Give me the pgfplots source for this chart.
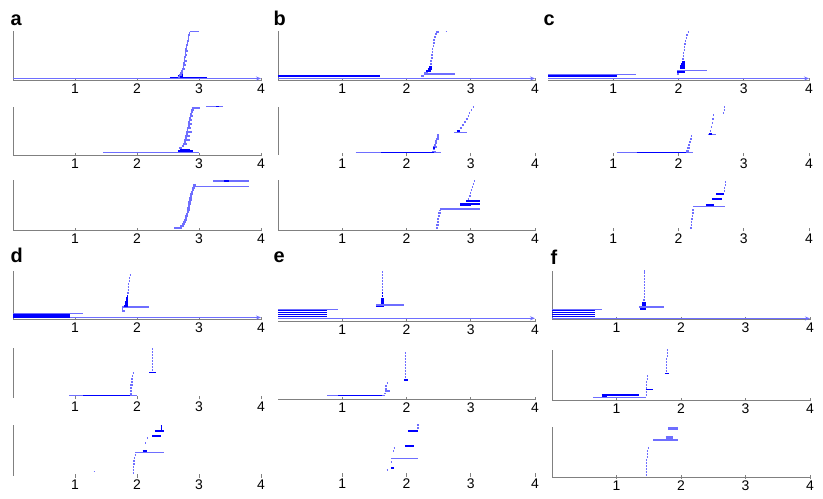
\documentclass[border=0pt]{standalone}
\usepackage{fontspec}
\setmainfont{Liberation Sans}
\usepackage{pgfplots}
\pgfplotsset{compat=1.18}
\usetikzlibrary{arrows.meta}

\definecolor{lblue}{RGB}{110,110,255}
\definecolor{dblue}{RGB}{0,0,255}

\pgfplotsset{
  panel/.style n args={4}{% x0, width, baseline y, height
    at={(#1bp,#3bp)}, anchor=south west,
    scale only axis, width=#2bp, height=#4bp,
    xmin=0, xmax=4, ymin=0, ymax=#4,
    axis x line*=bottom, axis y line*=left,
    axis line style={color=gray, line width=0.8bp},
    xtick={1,2,3,4}, xticklabels={1,2,3,4}, ytick=\empty,
    tick style={color=gray, line width=0.6bp},
    major tick length=3bp, tick align=center,
    xticklabel style={font=\fontsize{14}{14}\selectfont, inner sep=2bp},
    clip=false,
  },
  noleft/.style={y axis line style={draw=none}},
  nobottom/.style={x axis line style={draw=none}},
  % each bar: (birth,level) (death,level) then a nan break
  lt/.style={color=lblue, line width=#1, mark=none, unbounded coords=jump},
  lt/.default=1.3bp,
  dk/.style={color=dblue, line width=#1, mark=none, unbounded coords=jump},
  dk/.default=1.5bp,
  inf/.style={lblue, line width=1bp, -{Stealth[length=5bp,width=4bp]}},
}

\begin{document}
\begin{tikzpicture}
\path[use as bounding box] (0,0) rectangle (823bp,499bp);

% ---------------- a ----------------
\begin{axis}[panel={13}{248}{419}{49}]
\addplot[inf] coordinates {(0,1.5) (4,1.5)};
\addplot[dk] coordinates {
(2.53,2.5)(3.13,2.5)(nan,nan)
(2.66,4)(2.75,4)(nan,nan)
(2.69,6)(2.74,6)
};
\addplot[lt] coordinates {
(2.66,3)(2.70,3)(nan,nan)
(2.68,5)(2.72,5)(nan,nan)
(2.70,7)(2.74,7)(nan,nan)
(2.715,9)(2.75,9)(nan,nan)
(2.725,11)(2.77,11)(nan,nan)
(2.735,13)(2.76,13)(nan,nan)
(2.745,15)(2.79,15)(nan,nan)
(2.75,17)(2.77,17)(nan,nan)
(2.755,19)(2.80,19)(nan,nan)
(2.76,21)(2.78,21)(nan,nan)
(2.765,23)(2.79,23)(nan,nan)
(2.77,25)(2.81,25)(nan,nan)
(2.772,27)(2.79,27)(nan,nan)
(2.776,29)(2.82,29)(nan,nan)
(2.78,31)(2.80,31)(nan,nan)
(2.787,33)(2.81,33)(nan,nan)
(2.795,35)(2.83,35)(nan,nan)
(2.80,37)(2.82,37)(nan,nan)
(2.81,39)(2.84,39)(nan,nan)
(2.815,41)(2.83,41)(nan,nan)
(2.82,43)(2.84,43)(nan,nan)
(2.83,45)(2.85,45)(nan,nan)
(2.84,47)(2.86,47)(nan,nan)
(2.85,48.5)(3.00,48.5)
};
\end{axis}

\begin{axis}[panel={13}{248}{344}{48}]
\addplot[lt] coordinates {
(1.45,2.5)(3.00,2.5)(nan,nan)
(2.68,7)(2.72,7)(nan,nan)
(2.72,9)(2.76,9)(nan,nan)
(2.74,11)(2.80,11)(nan,nan)
(2.755,13)(2.79,13)(nan,nan)
(2.765,15)(2.85,15)(nan,nan)
(2.77,17)(2.80,17)(nan,nan)
(2.78,19)(2.86,19)(nan,nan)
(2.79,21)(2.82,21)(nan,nan)
(2.795,23)(2.88,23)(nan,nan)
(2.80,25)(2.83,25)(nan,nan)
(2.81,27)(2.87,27)(nan,nan)
(2.815,29)(2.85,29)(nan,nan)
(2.82,31)(2.89,31)(nan,nan)
(2.83,33)(2.86,33)(nan,nan)
(2.835,35)(2.88,35)(nan,nan)
(2.84,37)(2.87,37)(nan,nan)
(2.85,39)(2.90,39)(nan,nan)
(2.855,41)(2.88,41)(nan,nan)
(2.865,43)(2.90,43)(nan,nan)
(2.875,45)(2.92,45)(nan,nan)
(2.88,47)(3.02,47)(nan,nan)
(3.12,48.5)(3.38,48.5)
};
\addplot[dk] coordinates {
(2.66,4)(2.90,4)(nan,nan)
(2.70,5.5)(2.86,5.5)(nan,nan)
(3.28,48.5)(3.33,48.5)
};
\end{axis}

\begin{axis}[panel={13}{248}{269}{50}]
\addplot[lt] coordinates {
(2.60,2)(2.72,2)(nan,nan)
(2.70,4)(2.76,4)(nan,nan)
(2.73,6)(2.77,6)(nan,nan)
(2.75,8)(2.79,8)(nan,nan)
(2.76,10)(2.80,10)(nan,nan)
(2.77,12)(2.81,12)(nan,nan)
(2.78,14)(2.82,14)(nan,nan)
(2.79,16)(2.83,16)(nan,nan)
(2.80,18)(2.84,18)(nan,nan)
(2.805,20)(2.85,20)(nan,nan)
(2.81,22)(2.85,22)(nan,nan)
(2.82,24)(2.86,24)(nan,nan)
(2.825,26)(2.87,26)(nan,nan)
(2.83,28)(2.87,28)(nan,nan)
(2.84,30)(2.88,30)(nan,nan)
(2.845,32)(2.88,32)(nan,nan)
(2.85,34)(2.89,34)(nan,nan)
(2.86,36)(2.90,36)(nan,nan)
(2.87,38)(2.91,38)(nan,nan)
(2.88,40)(2.92,40)(nan,nan)
(2.89,42)(2.93,42)(nan,nan)
(2.90,43.5)(3.80,43.5)(nan,nan)
(2.91,45)(2.95,45)(nan,nan)
(3.23,49)(3.80,49)
};
\addplot[dk] coordinates {(3.40,49)(3.48,49)};
\end{axis}

% ---------------- b ----------------
\begin{axis}[panel={278}{257}{419}{49}]
\addplot[inf] coordinates {(0,1.5) (4,1.5)};
\addplot[dk=2.5bp] coordinates {(0,3.8)(1.58,3.8)};
\addplot[dk] coordinates {
(2.31,9)(2.38,9)(nan,nan)
(2.33,11)(2.39,11)(nan,nan)
(2.35,13)(2.39,13)
};
\addplot[lt] coordinates {
(2.28,6)(2.75,6)(nan,nan)
(2.23,4)(2.28,4)(nan,nan)
(2.28,7)(2.33,7)(nan,nan)
(2.365,16)(2.39,16)(nan,nan)
(2.37,19)(2.40,19)(nan,nan)
(2.38,22)(2.41,22)(nan,nan)
(2.385,25)(2.41,25)(nan,nan)
(2.39,28)(2.42,28)(nan,nan)
(2.40,31)(2.42,31)(nan,nan)
(2.41,34)(2.43,34)(nan,nan)
(2.415,37)(2.44,37)(nan,nan)
(2.42,40)(2.45,40)(nan,nan)
(2.435,43)(2.46,43)(nan,nan)
(2.45,46)(2.48,46)(nan,nan)
(2.46,48)(2.50,48)(nan,nan)
(2.61,48.5)(2.63,48.5)
};
\end{axis}

\begin{axis}[panel={278}{257}{344}{48}, nobottom]
\addplot[lt] coordinates {
(1.21,2.3)(2.54,2.3)(nan,nan)
(2.40,3.5)(2.46,3.5)(nan,nan)
(2.41,6)(2.45,6)(nan,nan)
(2.42,8)(2.47,8)(nan,nan)
(2.43,10)(2.46,10)(nan,nan)
(2.44,12)(2.48,12)(nan,nan)
(2.45,14)(2.48,14)(nan,nan)
(2.46,16)(2.50,16)(nan,nan)
(2.47,18)(2.50,18)(nan,nan)
(2.48,20)(2.51,20)(nan,nan)
(2.74,22.7)(2.94,22.7)(nan,nan)
(2.80,24)(2.84,24)(nan,nan)
(2.83,27)(2.86,27)(nan,nan)
(2.86,30)(2.89,30)(nan,nan)
(2.90,33)(2.93,33)(nan,nan)
(2.92,36)(2.95,36)(nan,nan)
(2.95,39)(2.97,39)(nan,nan)
(2.97,42)(2.99,42)(nan,nan)
(3.00,45)(3.02,45)(nan,nan)
(3.03,48)(3.05,48)
};
\addplot[dk] coordinates {
(1.60,2.3)(2.43,2.3)(nan,nan)
(2.41,7)(2.45,7)(nan,nan)
(2.78,24)(2.83,24)
};
\end{axis}

\begin{axis}[panel={278}{257}{269}{50}]
\addplot[lt] coordinates {
(2.46,2)(2.49,2)(nan,nan)
(2.465,5)(2.50,5)(nan,nan)
(2.47,8)(2.50,8)(nan,nan)
(2.48,11)(2.51,11)(nan,nan)
(2.485,14)(2.52,14)(nan,nan)
(2.49,17)(2.53,17)(nan,nan)
(2.50,19.5)(2.53,19.5)(nan,nan)
(2.52,21)(3.15,21)(nan,nan)
(2.95,31)(2.98,31)(nan,nan)
(2.97,34)(3.00,34)(nan,nan)
(2.99,37)(3.01,37)(nan,nan)
(3.00,40)(3.02,40)(nan,nan)
(3.02,43)(3.04,43)(nan,nan)
(3.03,46)(3.05,46)(nan,nan)
(3.05,49)(3.06,49)
};
\addplot[dk=2bp] coordinates {
(2.84,24.5)(3.00,24.5)(nan,nan)
(2.84,26)(3.15,26)(nan,nan)
(2.93,29)(3.15,29)
};
\end{axis}

% ---------------- c ----------------
\begin{axis}[panel={548}{261}{419}{49}, noleft]
\addplot[inf] coordinates {(0,1.5) (4,1.5)};
\addplot[dk=3bp] coordinates {(0,4)(1.05,4)};
\addplot[lt] coordinates {
(0,5.5)(1.35,5.5)(nan,nan)
(1.98,9.3)(2.44,9.3)(nan,nan)
(1.98,6)(2.00,6)(nan,nan)
(2.06,21)(2.08,21)(nan,nan)
(2.065,24)(2.085,24)(nan,nan)
(2.07,27)(2.09,27)(nan,nan)
(2.08,30)(2.10,30)(nan,nan)
(2.085,33)(2.10,33)(nan,nan)
(2.09,36)(2.11,36)(nan,nan)
(2.10,39)(2.12,39)(nan,nan)
(2.11,42)(2.13,42)(nan,nan)
(2.12,45)(2.14,45)(nan,nan)
(2.14,48)(2.15,48)
};
\addplot[dk] coordinates {
(1.98,8)(2.10,8)(nan,nan)
(2.02,12)(2.10,12)(nan,nan)
(2.03,14)(2.10,14)(nan,nan)
(2.04,16)(2.10,16)(nan,nan)
(2.05,18)(2.10,18)
};
\end{axis}

\begin{axis}[panel={548}{261}{344}{48}, noleft, nobottom]
\addplot[lt] coordinates {
(1.05,2.3)(2.22,2.3)(nan,nan)
(2.12,4)(2.16,4)(nan,nan)
(2.13,7)(2.17,7)(nan,nan)
(2.15,10)(2.18,10)(nan,nan)
(2.16,13)(2.19,13)(nan,nan)
(2.18,16)(2.20,16)(nan,nan)
(2.19,19)(2.21,19)(nan,nan)
(2.45,20.7)(2.58,20.7)(nan,nan)
(2.48,24)(2.50,24)(nan,nan)
(2.50,28)(2.52,28)(nan,nan)
(2.51,32)(2.53,32)(nan,nan)
(2.52,36)(2.54,36)(nan,nan)
(2.53,40)(2.55,40)(nan,nan)
(2.68,42)(2.70,42)(nan,nan)
(2.69,45)(2.71,45)(nan,nan)
(2.70,48)(2.71,48)
};
\addplot[dk] coordinates {
(1.36,2.3)(2.12,2.3)(nan,nan)
(2.46,21)(2.52,21)
};
\end{axis}

\begin{axis}[panel={548}{261}{269}{50}, noleft, nobottom]
\addplot[lt] coordinates {
(2.18,2)(2.20,2)(nan,nan)
(2.185,5)(2.21,5)(nan,nan)
(2.19,8)(2.21,8)(nan,nan)
(2.19,11)(2.22,11)(nan,nan)
(2.20,14)(2.22,14)(nan,nan)
(2.205,17)(2.23,17)(nan,nan)
(2.21,20)(2.23,20)(nan,nan)
(2.22,23.3)(2.71,23.3)(nan,nan)
(2.70,39)(2.72,39)(nan,nan)
(2.70,42)(2.72,42)(nan,nan)
(2.71,45)(2.72,45)(nan,nan)
(2.71,48)(2.72,48)
};
\addplot[dk=2.2bp] coordinates {
(2.42,25)(2.55,25)(nan,nan)
(2.51,30.7)(2.66,30.7)(nan,nan)
(2.58,36)(2.70,36)
};
\end{axis}

% ---------------- d ----------------
\begin{axis}[panel={13}{248}{180}{48}]
\addplot[inf] coordinates {(0,1.5) (4,1.5)};
\addplot[dk=4bp] coordinates {(0,3.2)(0.92,3.2)};
\addplot[lt] coordinates {
(0,5.8)(1.13,5.8)(nan,nan)
(1.76,12)(2.20,12)(nan,nan)
(1.76,8)(1.80,8)(nan,nan)
(1.76,10)(1.78,10)(nan,nan)
(1.845,26)(1.865,26)(nan,nan)
(1.85,29)(1.87,29)(nan,nan)
(1.85,32)(1.87,32)(nan,nan)
(1.86,35)(1.875,35)(nan,nan)
(1.865,38)(1.88,38)(nan,nan)
(1.87,41)(1.88,41)(nan,nan)
(1.88,44)(1.89,44)
};
\addplot[dk] coordinates {
(1.79,13)(1.86,13)(nan,nan)
(1.80,15)(1.86,15)(nan,nan)
(1.81,17)(1.86,17)(nan,nan)
(1.82,19)(1.86,19)(nan,nan)
(1.83,21)(1.86,21)(nan,nan)
(1.84,23)(1.86,23)
};
\end{axis}

\begin{axis}[panel={13}{248}{101}{50}, nobottom]
\addplot[lt] coordinates {
(0.91,2.3)(2.00,2.3)(nan,nan)
(1.88,4)(1.92,4)(nan,nan)
(1.885,7)(1.92,7)(nan,nan)
(1.89,10)(1.92,10)(nan,nan)
(1.89,13)(1.93,13)(nan,nan)
(1.90,16)(1.93,16)(nan,nan)
(1.91,19)(1.94,19)(nan,nan)
(1.92,22)(1.94,22)(nan,nan)
(1.93,25)(1.95,25)(nan,nan)
(2.24,28)(2.25,28)(nan,nan)
(2.24,31)(2.25,31)(nan,nan)
(2.24,34)(2.25,34)(nan,nan)
(2.24,37)(2.25,37)(nan,nan)
(2.245,40)(2.255,40)(nan,nan)
(2.245,43)(2.255,43)(nan,nan)
(2.25,46)(2.26,46)(nan,nan)
(2.25,49)(2.26,49)
};
\addplot[dk] coordinates {
(1.13,2.3)(1.89,2.3)(nan,nan)
(2.20,25.7)(2.30,25.7)
};
\end{axis}

\begin{axis}[panel={13}{248}{23}{51}, nobottom]
\addplot[lt] coordinates {
(1.30,4.3)(1.31,4.3)(nan,nan)
(1.93,3)(1.94,3)(nan,nan)
(1.93,6)(1.95,6)(nan,nan)
(1.935,9)(1.95,9)(nan,nan)
(1.94,12)(1.96,12)(nan,nan)
(1.94,15)(1.96,15)(nan,nan)
(1.95,18)(1.97,18)(nan,nan)
(1.96,21)(1.98,21)(nan,nan)
(1.97,23.7)(2.44,23.7)(nan,nan)
(2.13,33)(2.15,33)(nan,nan)
(2.16,38)(2.18,38)
};
\addplot[dk=2.2bp] coordinates {
(2.09,25)(2.16,25)(nan,nan)
(2.25,40)(2.38,40)(nan,nan)
(2.29,45)(2.44,45)(nan,nan)
(2.38,47)(2.40,47)(nan,nan)
(2.38,49.5)(2.40,49.5)
};
\end{axis}

% ---------------- e ----------------
\begin{axis}[panel={278}{257}{178}{50}, noleft]
\addplot[inf] coordinates {(0,2.7) (4,2.7)};
\addplot[dk] coordinates {
(0,4.3)(0.76,4.3)(nan,nan)
(0,6.3)(0.76,6.3)(nan,nan)
(0,8.3)(0.76,8.3)(nan,nan)
(0,10.3)(0.76,10.3)(nan,nan)
(1.53,15)(1.65,15)(nan,nan)
(1.60,18)(1.65,18)(nan,nan)
(1.61,20)(1.65,20)(nan,nan)
(1.61,22)(1.65,22)(nan,nan)
(1.615,25)(1.64,25)(nan,nan)
(1.62,28)(1.64,28)
};
\addplot[lt] coordinates {
(0,11.7)(0.94,11.7)(nan,nan)
(1.53,16)(1.96,16)(nan,nan)
(1.615,31)(1.635,31)(nan,nan)
(1.62,34)(1.63,34)(nan,nan)
(1.62,37)(1.63,37)(nan,nan)
(1.62,40)(1.63,40)(nan,nan)
(1.62,43)(1.63,43)(nan,nan)
(1.62,46)(1.63,46)(nan,nan)
(1.62,49)(1.63,49)
};
\end{axis}

\begin{axis}[panel={278}{257}{100}{50}, noleft]
\addplot[lt] coordinates {
(0.77,3.3)(1.67,3.3)(nan,nan)
(1.67,8)(1.75,8)(nan,nan)
(1.65,5.7)(1.68,5.7)(nan,nan)
(1.66,10)(1.69,10)(nan,nan)
(1.67,13)(1.70,13)(nan,nan)
(1.69,16)(1.71,16)(nan,nan)
(1.97,22)(1.98,22)(nan,nan)
(1.97,25)(1.98,25)(nan,nan)
(1.97,28)(1.98,28)(nan,nan)
(1.97,31)(1.98,31)(nan,nan)
(1.97,34)(1.98,34)(nan,nan)
(1.97,37)(1.98,37)(nan,nan)
(1.97,40)(1.98,40)(nan,nan)
(1.97,43)(1.98,43)(nan,nan)
(1.97,46)(1.98,46)
};
\addplot[dk] coordinates {
(0.94,3.3)(1.62,3.3)(nan,nan)
(1.96,19)(2.02,19)
};
\end{axis}

\begin{axis}[panel={278}{257}{24}{50}, noleft, nobottom]
\addplot[lt] coordinates {
(1.69,5)(1.70,5)(nan,nan)
(1.76,16.7)(2.18,16.7)(nan,nan)
(1.76,13)(1.77,13)(nan,nan)
(1.79,24)(1.80,24)(nan,nan)
(1.80,27)(1.81,27)(nan,nan)
(2.17,47)(2.19,47)(nan,nan)
(2.17,50)(2.19,50)
};
\addplot[dk=2bp] coordinates {
(1.76,7)(1.80,7)(nan,nan)
(1.98,29.3)(2.11,29.3)(nan,nan)
(2.02,44)(2.18,44)
};
\end{axis}

% ---------------- f ----------------
\begin{axis}[panel={552}{258}{180}{48}]
\addplot[inf] coordinates {(0,0.5) (4,0.5)};
\addplot[dk] coordinates {
(0,2.3)(0.66,2.3)(nan,nan)
(0,4.3)(0.66,4.3)(nan,nan)
(0,6.3)(0.66,6.3)(nan,nan)
(0,8.3)(0.66,8.3)(nan,nan)
(1.37,10)(1.45,10)(nan,nan)
(1.37,12)(1.45,12)(nan,nan)
(1.39,14)(1.45,14)(nan,nan)
(1.40,16)(1.45,16)
};
\addplot[lt] coordinates {
(0,9.8)(0.78,9.8)(nan,nan)
(1.35,12)(1.74,12)(nan,nan)
(1.41,19)(1.44,19)(nan,nan)
(1.42,22)(1.44,22)(nan,nan)
(1.42,25)(1.44,25)(nan,nan)
(1.425,28)(1.44,28)(nan,nan)
(1.43,31)(1.44,31)(nan,nan)
(1.43,34)(1.44,34)(nan,nan)
(1.43,37)(1.44,37)(nan,nan)
(1.43,40)(1.44,40)(nan,nan)
(1.43,43)(1.44,43)(nan,nan)
(1.43,46)(1.44,46)(nan,nan)
(1.43,48)(1.44,48)
};
\end{axis}

\begin{axis}[panel={552}{258}{99}{50}]
\addplot[lt] coordinates {
(0.64,2.7)(1.45,2.7)(nan,nan)
(1.45,5)(1.47,5)(nan,nan)
(1.45,8)(1.47,8)(nan,nan)
(1.455,12)(1.47,12)(nan,nan)
(1.46,15)(1.47,15)(nan,nan)
(1.46,18)(1.475,18)(nan,nan)
(1.465,21)(1.48,21)(nan,nan)
(1.47,24)(1.48,24)(nan,nan)
(1.76,29)(1.77,29)(nan,nan)
(1.765,32)(1.775,32)(nan,nan)
(1.77,35)(1.78,35)(nan,nan)
(1.77,38)(1.78,38)(nan,nan)
(1.775,41)(1.785,41)(nan,nan)
(1.78,44)(1.79,44)(nan,nan)
(1.78,47)(1.79,47)(nan,nan)
(1.78,50)(1.79,50)
};
\addplot[dk] coordinates {
(0.77,5)(1.35,5)(nan,nan)
(0.78,3.5)(0.85,3.5)(nan,nan)
(1.45,10.7)(1.56,10.7)(nan,nan)
(1.75,26.7)(1.81,26.7)
};
\end{axis}

\begin{axis}[panel={552}{258}{22}{50}]
\addplot[lt] coordinates {
(1.45,2)(1.46,2)(nan,nan)
(1.45,5)(1.46,5)(nan,nan)
(1.455,8)(1.465,8)(nan,nan)
(1.46,11)(1.47,11)(nan,nan)
(1.46,14)(1.47,14)(nan,nan)
(1.46,17)(1.48,17)(nan,nan)
(1.465,20)(1.48,20)(nan,nan)
(1.47,23)(1.48,23)(nan,nan)
(1.48,26)(1.49,26)(nan,nan)
(1.485,29)(1.495,29)(nan,nan)
(1.57,37)(1.95,37)
};
\addplot[lt=3bp] coordinates {
(1.76,39.5)(1.88,39.5)(nan,nan)
(1.80,49)(1.95,49)
};
\end{axis}

% panel letters
\node[anchor=base west, font=\bfseries\fontsize{20}{20}\selectfont] at (7bp,473bp) {a};
\node[anchor=base west, font=\bfseries\fontsize{20}{20}\selectfont] at (270bp,473bp) {b};
\node[anchor=base west, font=\bfseries\fontsize{20}{20}\selectfont] at (540bp,473bp) {c};
\node[anchor=base west, font=\bfseries\fontsize{20}{20}\selectfont] at (7bp,236bp) {d};
\node[anchor=base west, font=\bfseries\fontsize{20}{20}\selectfont] at (270bp,236bp) {e};
\node[anchor=base west, font=\bfseries\fontsize{20}{20}\selectfont] at (547bp,234bp) {f};
\end{tikzpicture}
\end{document}
